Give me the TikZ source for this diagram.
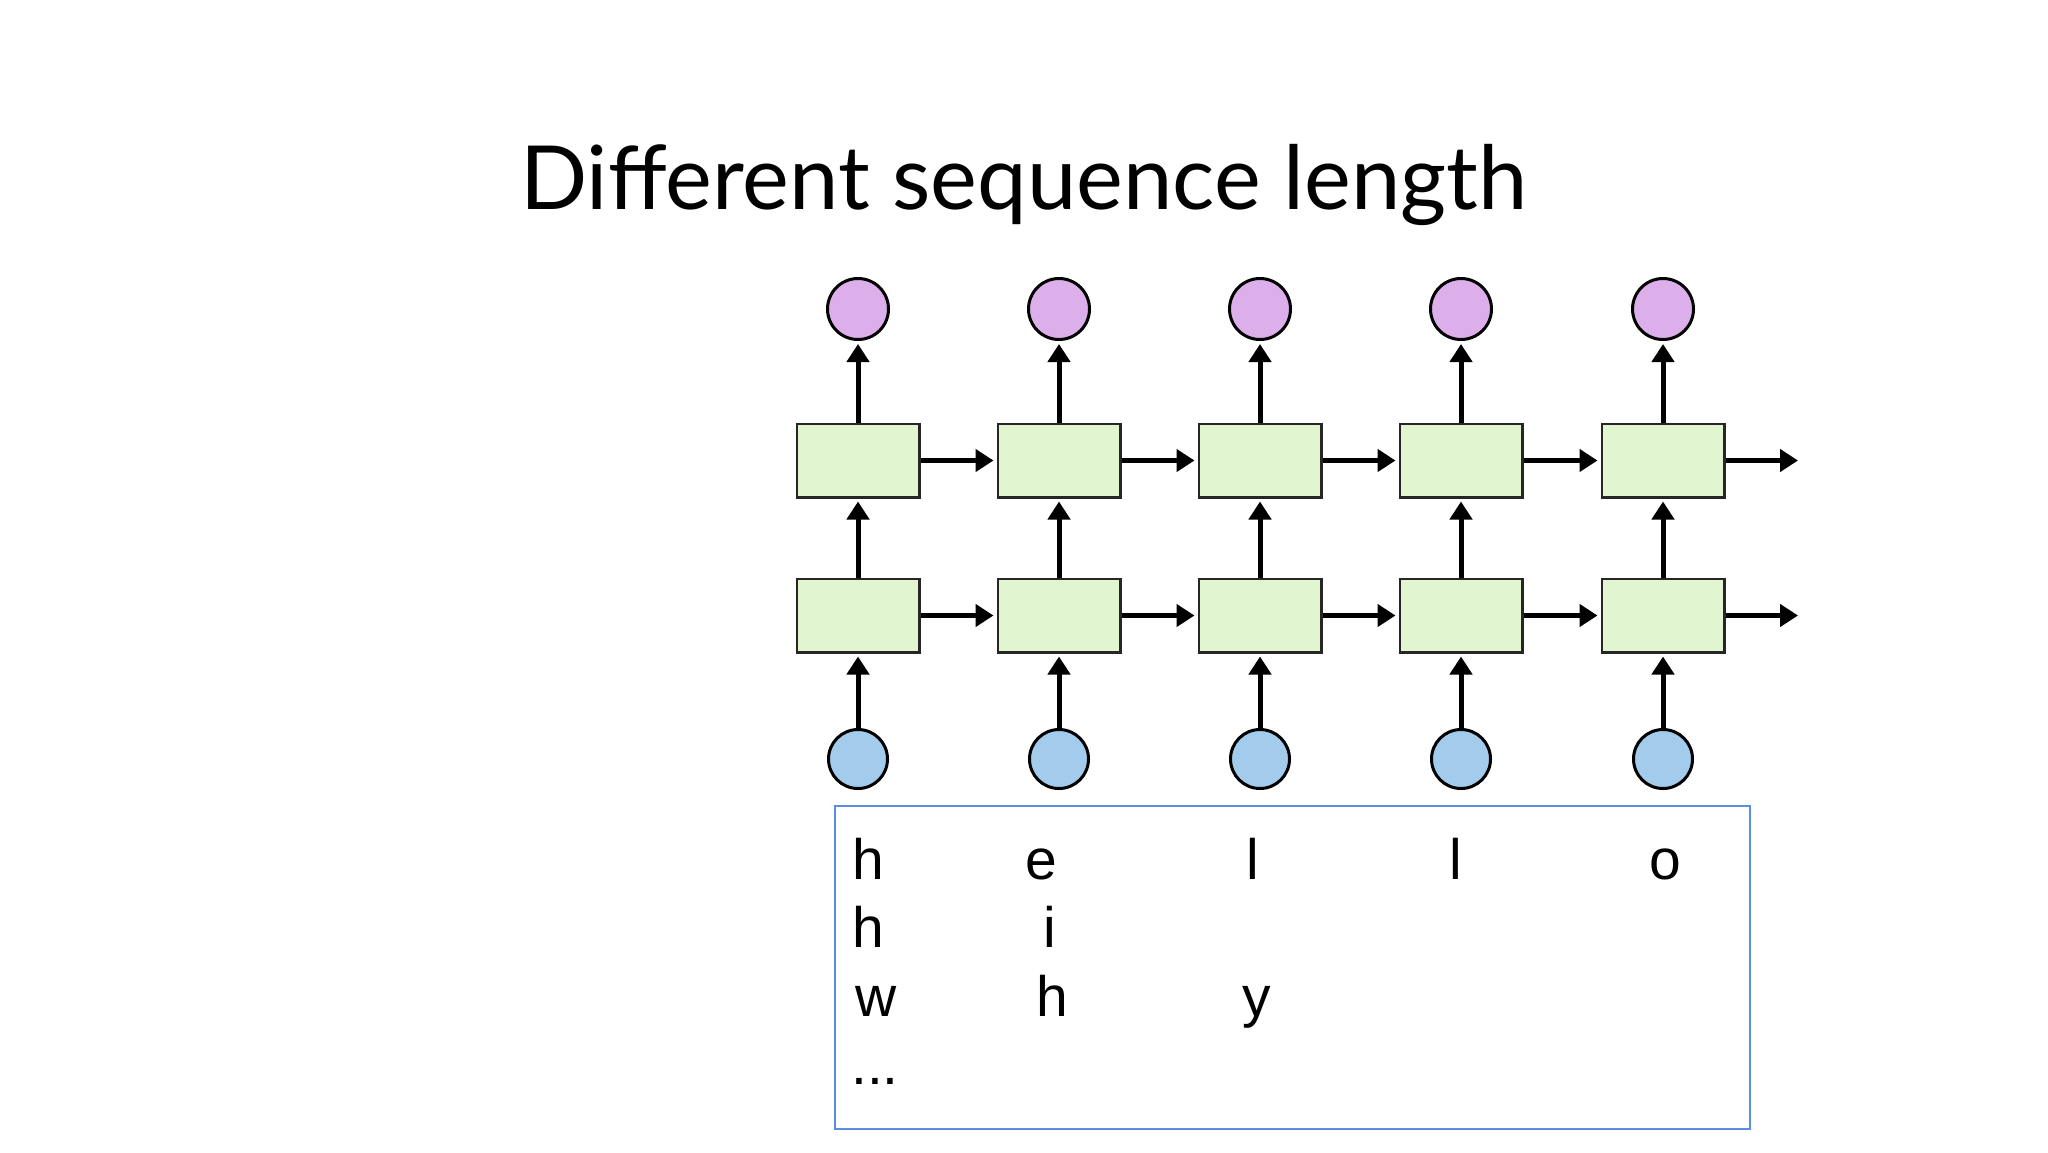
\documentclass[tikz,border=0pt]{standalone}
\usepackage{fontspec}
\setmainfont{Liberation Sans}
\newfontfamily\titlefont{Lato}
\usetikzlibrary{arrows.meta}
\definecolor{outc}{HTML}{DCAEEA}
\definecolor{inc}{HTML}{A3CBEB}
\definecolor{cellc}{HTML}{E1F5D1}
\definecolor{framec}{HTML}{5B8DE3}
\tikzset{
  outnode/.style={circle, draw=black, line width=3pt, fill=outc, minimum size=61pt, inner sep=0pt},
  innode/.style={circle, draw=black, line width=3pt, fill=inc, minimum size=59pt, inner sep=0pt},
  cell/.style={rectangle, draw=black!85, line width=2.5pt, fill=cellc, minimum width=122.5pt, minimum height=73.5pt, inner sep=0pt},
  conn/.style={line width=5pt, -{Triangle[length=18pt, width=22pt]}, shorten >=3pt},
  letter/.style={anchor=base west, inner sep=0pt, font=\fontsize{57}{57}\selectfont}
}
\begin{document}
\begin{tikzpicture}[x=1pt, y=-1pt]
\useasboundingbox (0,0) rectangle (2048,1152);
\fill[white] (0,0) rectangle (2048,1152);
\node[anchor=base, inner sep=0pt, font=\titlefont\fontsize{88.5}{88.5}\selectfont] (title) at (1024,209) {Different sequence length};
\foreach \i/\x in {1/858, 2/1059, 3/1260, 4/1461, 5/1663} {
  \node[outnode] (o\i) at (\x,309) {};
  \node[cell] (t\i) at (\x,460.5) {};
  \node[cell] (b\i) at (\x,615.5) {};
  \node[innode] (n\i) at (\x,759) {};
  \draw[conn] (n\i) -- (b\i);
  \draw[conn] (b\i) -- (t\i);
  \draw[conn] (t\i) -- (o\i);
}
\foreach \i/\j in {1/2, 2/3, 3/4, 4/5} {
  \draw[conn] (t\i.east) -- (t\j.west);
  \draw[conn] (b\i.east) -- (b\j.west);
}
\coordinate (te) at (1798,460.5);
\coordinate (be) at (1798,615.5);
\draw[conn, shorten >=0pt] (t5.east) -- (te);
\draw[conn, shorten >=0pt] (b5.east) -- (be);
\node[draw=framec, line width=2pt, minimum width=915pt, minimum height=322.5pt, inner sep=0pt, anchor=north west] (frame) at (834,805) {};
\node[letter] (r1a) at (852,879) {h};
\node[letter] (r1b) at (1025,879) {e};
\node[letter] (r1c) at (1246,879) {l};
\node[letter] (r1d) at (1449,879) {l};
\node[letter] (r1e) at (1649,879) {o};
\node[letter] (r2a) at (852,947) {h};
\node[letter] (r2b) at (1043,947) {i};
\node[letter] (r3a) at (855,1016) {w};
\node[letter] (r3b) at (1036,1016) {h};
\node[letter] (r3c) at (1242,1016) {y};
\node[letter] (r4a) at (851,1084) {...};
\end{tikzpicture}
\end{document}
